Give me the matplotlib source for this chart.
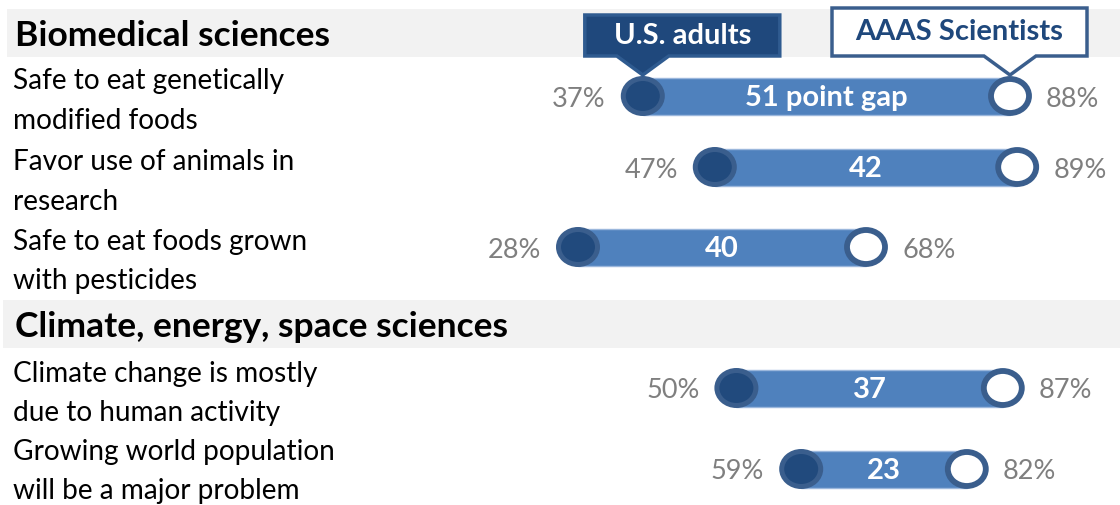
import matplotlib.pyplot as plt
from matplotlib.patches import Ellipse, Polygon, Rectangle

plt.rcParams['font.family'] = ['Lato', 'DejaVu Sans']

# survey results, percent agreeing
sections = ["Biomedical sciences", "Climate, energy, space sciences"]
labels = [
    "Safe to eat genetically\nmodified foods",
    "Favor use of animals in\nresearch",
    "Safe to eat foods grown\nwith pesticides",
    "Climate change is mostly\ndue to human activity",
    "Growing world population\nwill be a major problem",
]
us_adults = [37, 47, 28, 50, 59]
scientists = [88, 89, 68, 87, 82]

# layout (pixel rows, top to bottom)
W, H = 1120, 506
PX_PER_PCT = 7.2
X0 = -376.4 / PX_PER_PCT
bar_y = [97, 168, 248, 389, 470]
label_y = [81, 162, 242, 374, 452]
line_gap = 39.5
header_y = [36, 327]
band_y = [(10, 58), (301, 349)]
band_x = [7, 3]

blue = "#4f81bd"
dark = "#214a7d"
ring = "#3a5e8d"
gray = "#7f7f7f"

fig = plt.figure(figsize=(W / 100, H / 100), dpi=100)
# pixel axis for bands and text, percent axis for the marks
bg = fig.add_axes([0, 0, 1, 1])
bg.set_xlim(0, W)
bg.set_ylim(H, 0)
bg.axis("off")
ax = fig.add_axes([0, 0, 1, 1])
ax.set_xlim(X0, X0 + W / PX_PER_PCT)
ax.set_ylim(H, 0)
ax.axis("off")
ax.patch.set_alpha(0)

for name, hy, (b0, b1), bx in zip(sections, header_y, band_y, band_x):
    bg.add_patch(Rectangle((bx, b0), W - bx, b1 - b0, color="#f2f2f2", lw=0))
    bg.text(15, hy, name, fontsize=25.5, fontweight="bold", color="black",
            va="center", ha="left")

for lab, ly in zip(labels, label_y):
    for k, line in enumerate(lab.split("\n")):
        bg.text(13, ly + k * line_gap, line, fontsize=20.2, color="black",
                va="center", ha="left")

for i, (a, s) in enumerate(zip(us_adults, scientists)):
    y = bar_y[i]
    gap = s - a
    ax.barh(y, gap, left=a, height=37, color=blue, edgecolor="#9bb7dc",
            linewidth=1, zorder=2)
    ax.add_patch(Ellipse((a, y), (44 - 5) / PX_PER_PCT, 40 - 5, facecolor=dark,
                         edgecolor=ring, linewidth=3.6, zorder=3))
    ax.add_patch(Ellipse((s, y), (44 - 6) / PX_PER_PCT, 40 - 6, facecolor="white",
                         edgecolor=ring, linewidth=4.2, zorder=3))
    txt = f"{gap} point gap" if i == 0 else f"{gap}"
    ax.text((a + s) / 2, y + 1, txt, fontsize=21, fontweight="bold",
            color="white", ha="center", va="center", zorder=4)
    ax.annotate(f"{a}%", (a, y + 2), xytext=(-37, 0), textcoords="offset pixels",
                fontsize=19.5, color=gray, ha="right", va="center")
    ax.annotate(f"{s}%", (s, y + 2), xytext=(36, 0), textcoords="offset pixels",
                fontsize=19.5, color=gray, ha="left", va="center")


def callout(tip_pct, tip_y, left, right, top, bottom, half, fc, ec, text, tc):
    p = 1 / PX_PER_PCT
    t = tip_pct
    pts = [(t - left * p, top), (t + right * p, top), (t + right * p, bottom),
           (t + half * p, bottom), (t, tip_y), (t - half * p, bottom),
           (t - left * p, bottom)]
    ax.add_patch(Polygon(pts, closed=True, facecolor=fc, edgecolor=ec,
                         linewidth=2.5, joinstyle="miter", zorder=5))
    ax.text(t + (right - left) / 2 * p, (top + bottom) / 2 - 1, text,
            fontsize=21, fontweight="bold", color=tc, ha="center",
            va="center", zorder=6)


callout(us_adults[0], 76, 58, 137, 16, 57, 26, "#1f487c", "#2f5b90",
        "U.S. adults", "white")
callout(scientists[0], 76, 178, 77, 9, 57, 26, "white", ring,
        "AAAS Scientists", "#1f487c")

fig.savefig("out.png", dpi=100)
